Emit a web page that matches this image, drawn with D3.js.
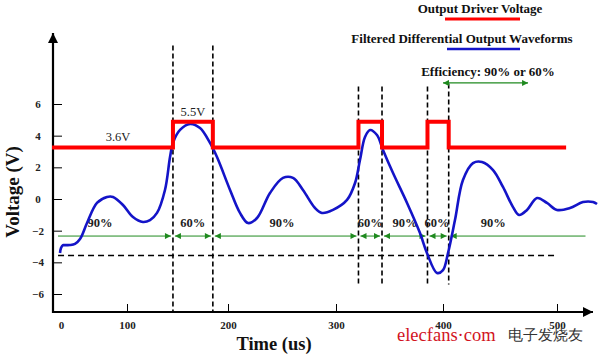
<!DOCTYPE html>
<html><head><meta charset="utf-8">
<script src="https://cdn.jsdelivr.net/npm/d3@7"></script>
<style>
html,body{margin:0;padding:0;background:#fff;}
svg{display:block;}
text{font-family:"Liberation Serif","Times New Roman",serif;}
</style></head>
<body>
<svg id="chart" width="600" height="355"></svg>
<script>
// ---- data ----
const xTickValues = [0, 100, 200, 300, 400, 500];
const yTickValues = [-6, -4, -2, 0, 2, 4, 6];

// Output driver voltage (step) - time (us), level (V as drawn)
const redT = [-13.6, 145.5, 185, 321, 343, 385.5, 405, 508];
const redV = [3.25, 4.88, 3.25, 4.88, 3.25, 4.88, 3.25, 3.25];

// Filtered differential output waveform
const blueT = [-1.5, 0, 3, 4.5, 13.6, 21.2, 28.8, 39.4, 54.5, 69.7, 78.8, 93.9, 105.9, 115.8, 122.8, 129.7,
  137.6, 142.6, 145.5, 152.5, 162.4, 172.3, 182.2, 189.1, 201.9, 211.1, 218.5, 226.9, 238.9, 250.9, 260.2,
  269.4, 280.6, 287.0, 297.2, 310.3, 317.8, 322.4, 327.1, 331.8, 338.3, 343.9, 353.3, 366.4, 378.5, 385.0,
  394.4, 400, 404.4, 410.5, 417.5, 426.3, 434.2, 443.9, 452.6, 461.4, 466.7, 473.7, 482.5, 491.2, 500,
  511.4, 522.8, 531.6, 535.1];
const blueV = [-3.41, -3.10, -2.91, -2.91, -2.91, -2.84, -2.53, -1.52, -0.25, 0.13, 0.13, -0.38, -1.14, -1.45, -1.33, -0.88,
  0.57, 2.65, 3.54, 4.36, 4.74, 4.48, 3.54, 2.65, 0.57, -0.88, -1.52, -1.20, 0.38, 1.33, 1.33,
  0.57, -0.57, -0.88, -0.69, -0.06, 1.01, 2.46, 3.92, 4.36, 4.04, 3.10, 1.64, -0.25, -2.15, -3.41,
  -4.67, -4.49, -3.41, -1.33, 1.20, 2.27, 2.34, 1.83, 0.76, -0.51, -1.01, -0.69, 0.06, -0.25, -0.69,
  -0.57, -0.19, -0.19, -0.32];

// vertical dashed markers at pulse edges
const dashT = [145.5, 185, 321, 343, 385.5, 405];
const dashTop = [9.7, 9.7, 7.1, 7.1, 7.1, 7.3];
const dashBottom = [-7.1, -7.1, -5.4, -5.4, -5.4, -5.4];

// horizontal reference levels
const refDashT = [-4.5, 498], refDashV = -3.57;
const effT = [-4.5, 145.5, 185, 321, 343, 385.5, 405, 525], effV = -2.34;
const effLabels = ["90%", "60%", "90%", "60%", "90%", "60%", "90%"];
const effLabelT = [59, 165, 250, 332, 364.5, 394.5, 444];
const effLabelV = -1.77;

const levelLabels = ["3.6V", "5.5V"];
const levelLabelT = [86.4, 165.3];
const levelLabelV = [3.66, 5.24];

const effArrowT = [400, 474.6], effArrowV = 7.33;

const legendLabels = ["Output Driver Voltage", "Filtered Differential Output Waveforms"];
const colors = {red: "#ff0000", blue: "#1414c8", green: "#1f8a1f"};

// ---- scales ----
const x = d3.scaleLinear().domain(xTickValues).range([61, 127, 228, 336, 443, 557]);
const y = d3.scaleLinear().domain([-6, 6]).range([294, 104]);

const svg = d3.select("#chart");
const defs = svg.append("defs");
function marker(id, color, w, h, orient) {
  defs.append("marker").attr("id", id).attr("viewBox", "0 0 10 10").attr("refX", 10).attr("refY", 5)
    .attr("markerUnits", "userSpaceOnUse").attr("markerWidth", w).attr("markerHeight", h).attr("orient", orient)
    .append("path").attr("d", "M0,0L10,5L0,10Z").attr("fill", color);
}
marker("axArrow", "#000", 12, 10, "auto");
marker("gEnd", colors.green, 7, 6, "auto");
marker("gStart", colors.green, 7, 6, "auto-start-reverse");

// axes lines with arrows
const x0 = 53, yAx = 312;
svg.append("line").attr("x1", x0).attr("y1", yAx + 1).attr("x2", x0).attr("y2", 33)
  .attr("stroke", "#000").attr("stroke-width", 2.2).attr("marker-end", "url(#axArrow)");
svg.append("line").attr("x1", x0 - 1).attr("y1", yAx).attr("x2", 593).attr("y2", yAx)
  .attr("stroke", "#000").attr("stroke-width", 2.2).attr("marker-end", "url(#axArrow)");

// y axis ticks
const gy = svg.append("g").attr("transform", `translate(${x0},0)`)
  .call(d3.axisLeft(y).tickValues(yTickValues).tickSize(-9).tickSizeOuter(0).tickPadding(12));
gy.select(".domain").remove();
gy.selectAll(".tick line").attr("stroke", "#000").attr("stroke-width", 1);
gy.selectAll(".tick text").attr("font-family", "Liberation Serif").attr("font-size", 11)
  .attr("font-weight", "bold").attr("fill", "#222").attr("text-anchor", "middle").attr("x", -15);

// x axis ticks
const gx = svg.append("g").attr("transform", `translate(0,${yAx})`)
  .call(d3.axisBottom(x).tickValues(xTickValues).tickSize(-8).tickSizeOuter(0).tickPadding(9));
gx.select(".domain").remove();
gx.selectAll(".tick line").attr("stroke", "#000").attr("stroke-width", 1)
  .attr("display", d => d === 0 ? "none" : null);
gx.selectAll(".tick text").attr("font-family", "Liberation Serif").attr("font-size", 11)
  .attr("font-weight", "bold").attr("fill", "#222");

// axis titles
svg.append("text").attr("x", 274).attr("y", 350).attr("text-anchor", "middle")
  .attr("font-size", 18.5).attr("font-weight", "bold").attr("fill", "#111").text("Time (us)");
svg.append("text").attr("transform", "translate(19,192) rotate(-90)").attr("text-anchor", "middle")
  .attr("font-size", 19).attr("font-weight", "bold").attr("fill", "#111").text("Voltage (V)");

// vertical dashed lines
svg.append("g").selectAll("line").data(dashT).join("line")
  .attr("x1", d => x(d)).attr("x2", d => x(d))
  .attr("y1", (d, i) => y(dashTop[i])).attr("y2", (d, i) => y(dashBottom[i]))
  .attr("stroke", "#000").attr("stroke-width", 1.6).attr("stroke-dasharray", "5,3");

// horizontal dashed reference
svg.append("line").attr("x1", x(refDashT[0])).attr("x2", x(refDashT[1]))
  .attr("y1", y(refDashV)).attr("y2", y(refDashV))
  .attr("stroke", "#000").attr("stroke-width", 1.6).attr("stroke-dasharray", "6,4");

// efficiency segments (green)
const segs = d3.range(effT.length - 1).map(i => ({a: effT[i], b: effT[i + 1], first: i === 0, last: i === effT.length - 2}));
svg.append("g").selectAll("line").data(segs).join("line")
  .attr("x1", d => x(d.a) + (d.first ? 0 : 2)).attr("x2", d => x(d.b) - (d.last ? 0 : 2))
  .attr("y1", y(effV)).attr("y2", y(effV))
  .attr("stroke", colors.green).attr("stroke-width", 1)
  .attr("marker-start", d => d.first ? null : "url(#gStart)")
  .attr("marker-end", d => d.last ? null : "url(#gEnd)");

// efficiency labels
svg.append("g").selectAll("text").data(effLabels).join("text")
  .attr("x", (d, i) => x(effLabelT[i])).attr("y", y(effLabelV)).attr("text-anchor", "middle")
  .attr("font-size", 12.5).attr("font-weight", "bold").attr("fill", "#222").text(d => d);

// blue waveform
const blueData = blueT.map((t, i) => [t, blueV[i]]);
svg.append("path").datum(blueData)
  .attr("d", d3.line().x(d => x(d[0])).y(d => y(d[1])).curve(d3.curveCatmullRom.alpha(0.5)))
  .attr("fill", "none").attr("stroke", colors.blue).attr("stroke-width", 2.6).attr("stroke-linejoin", "round");

// red driver voltage
const redData = redT.map((t, i) => [t, redV[i]]);
svg.append("path").datum(redData)
  .attr("d", d3.line().x(d => x(d[0])).y(d => y(d[1])).curve(d3.curveStepAfter))
  .attr("fill", "none").attr("stroke", colors.red).attr("stroke-width", 4).attr("stroke-linejoin", "miter");

// level labels
svg.append("g").selectAll("text").data(levelLabels).join("text")
  .attr("x", (d, i) => x(levelLabelT[i])).attr("y", (d, i) => y(levelLabelV[i])).attr("text-anchor", "middle")
  .attr("font-size", 12.5).attr("fill", "#222").text(d => d);

// efficiency arrow and title
svg.append("line").attr("x1", x(effArrowT[0])).attr("x2", x(effArrowT[1]))
  .attr("y1", y(effArrowV)).attr("y2", y(effArrowV))
  .attr("stroke", colors.green).attr("stroke-width", 1.3)
  .attr("marker-start", "url(#gStart)").attr("marker-end", "url(#gEnd)");
svg.append("text").attr("x", 488).attr("y", 76).attr("text-anchor", "middle")
  .attr("font-size", 13).attr("font-weight", "bold").attr("fill", "#111").text("Efficiency: 90% or 60%");

// legend
svg.append("text").attr("x", 480).attr("y", 13).attr("text-anchor", "middle")
  .attr("font-size", 13).attr("font-weight", "bold").attr("fill", "#111").text(legendLabels[0]);
svg.append("line").attr("x1", 445).attr("x2", 520).attr("y1", 19).attr("y2", 19)
  .attr("stroke", colors.red).attr("stroke-width", 3);
svg.append("text").attr("x", 462).attr("y", 43).attr("text-anchor", "middle")
  .attr("font-size", 13).attr("font-weight", "bold").attr("fill", "#111").text(legendLabels[1]);
svg.append("line").attr("x1", 447).attr("x2", 520).attr("y1", 49).attr("y2", 49)
  .attr("stroke", colors.blue).attr("stroke-width", 2.5);

// watermark
svg.append("text").attr("x", 397).attr("y", 341).attr("font-family", "Liberation Sans, Arial, sans-serif")
  .attr("font-size", 18.5).attr("fill", "#d2141e").text("elecfans·com");
svg.append("text").attr("x", 508).attr("y", 340).attr("font-family", "Noto Sans CJK SC")
  .attr("font-size", 15).attr("fill", "#333").text("电子发烧友");
</script>
</body></html>
